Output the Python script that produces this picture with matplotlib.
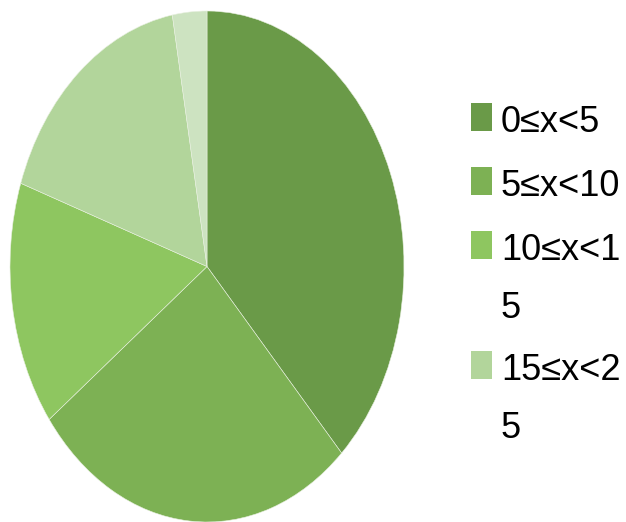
import matplotlib
matplotlib.use("Agg")
import matplotlib.pyplot as plt
from matplotlib.patches import Rectangle

categories = ["0≤x<5", "5≤x<10", "10≤x<15", "15≤x<25", "25≤x"]
values = [27, 19, 11, 12, 2]
colors = ["#6a9a48", "#7db154", "#8ec660", "#b2d59b", "#cde3c1"]

W, H = 626, 522
fig = plt.figure(figsize=(W / 100, H / 100), dpi=100)

# pie axes (elliptical pie)
ax = fig.add_axes([10 / W, 0.0 / H, 394 / W, 511 / H])
ax.pie(values, colors=colors, startangle=90, counterclock=False,
       wedgeprops=dict(edgecolor="#e8f0e0", linewidth=0.4), radius=1)
ax.set_aspect("auto")
ax.set_xlim(-1, 1)
ax.set_ylim(-1, 1)
ax.axis("off")

# manual legend (only the entries that fit are shown)
font = ["Liberation Sans", "DejaVu Sans"]
wrap = 6
y = 117  # pixel center of first entry, from top
for lab, col in list(zip(categories, colors))[:4]:
    lines = [lab[i:i + wrap] for i in range(0, len(lab), wrap)]
    fig.patches.append(Rectangle((471 / W, 1 - (y + 14) / H), 21 / W, 28 / H,
                                 transform=fig.transFigure, facecolor=col,
                                 edgecolor="none"))
    for k, ln in enumerate(lines):
        yb = y + 15 + k * 58
        fig.text(501 / W, 1 - yb / H, ln, family=font, fontsize=26,
                 va="baseline", ha="left", color="black")
    y += 64 + 56 * (len(lines) - 1)

fig.savefig("out.png", dpi=100)
